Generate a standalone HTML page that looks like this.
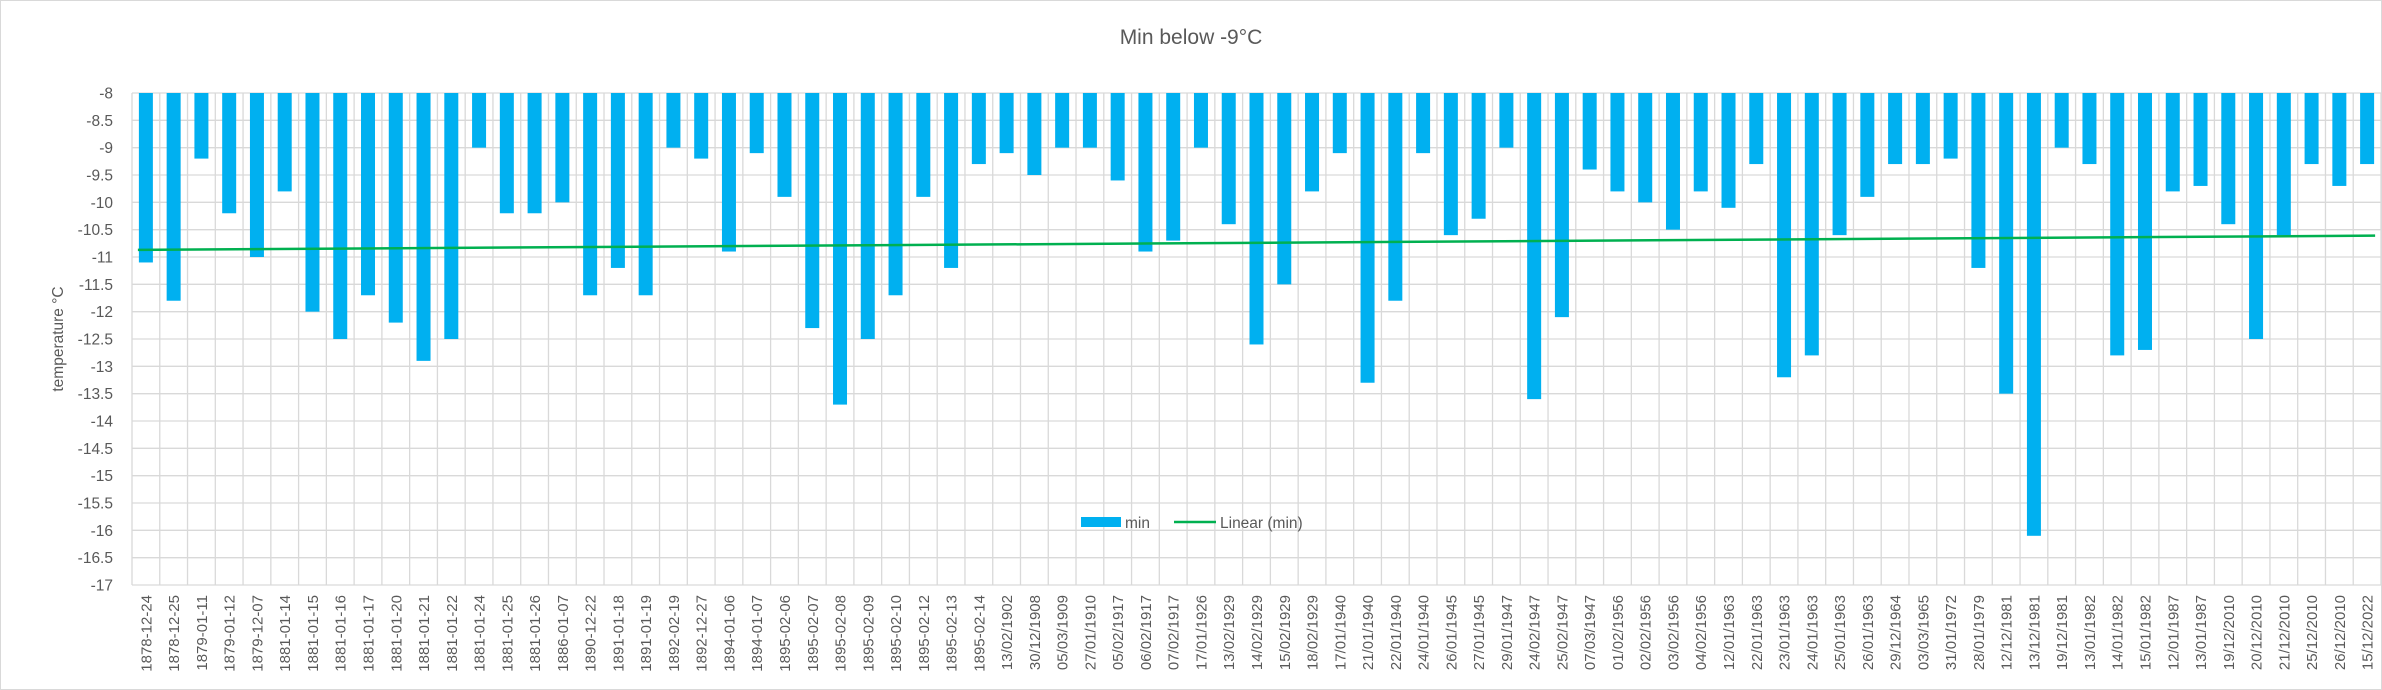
<!DOCTYPE html>
<html><head><meta charset="utf-8"><style>
html,body{margin:0;padding:0;background:#fff;}
svg{display:block;font-family:"Liberation Sans",sans-serif;}
</style></head><body>
<svg id="c" width="2382" height="690" xmlns="http://www.w3.org/2000/svg"></svg>
<script>
const labels=["1878-12-24","1878-12-25","1879-01-11","1879-01-12","1879-12-07","1881-01-14","1881-01-15","1881-01-16","1881-01-17","1881-01-20","1881-01-21","1881-01-22","1881-01-24","1881-01-25","1881-01-26","1886-01-07","1890-12-22","1891-01-18","1891-01-19","1892-02-19","1892-12-27","1894-01-06","1894-01-07","1895-02-06","1895-02-07","1895-02-08","1895-02-09","1895-02-10","1895-02-12","1895-02-13","1895-02-14","13/02/1902","30/12/1908","05/03/1909","27/01/1910","05/02/1917","06/02/1917","07/02/1917","17/01/1926","13/02/1929","14/02/1929","15/02/1929","18/02/1929","17/01/1940","21/01/1940","22/01/1940","24/01/1940","26/01/1945","27/01/1945","29/01/1947","24/02/1947","25/02/1947","07/03/1947","01/02/1956","02/02/1956","03/02/1956","04/02/1956","12/01/1963","22/01/1963","23/01/1963","24/01/1963","25/01/1963","26/01/1963","29/12/1964","03/03/1965","31/01/1972","28/01/1979","12/12/1981","13/12/1981","19/12/1981","13/01/1982","14/01/1982","15/01/1982","12/01/1987","13/01/1987","19/12/2010","20/12/2010","21/12/2010","25/12/2010","26/12/2010","15/12/2022"];
const vals=[-11.1,-11.8,-9.2,-10.2,-11.0,-9.8,-12.0,-12.5,-11.7,-12.2,-12.9,-12.5,-9.0,-10.2,-10.2,-10.0,-11.7,-11.2,-11.7,-9.0,-9.2,-10.9,-9.1,-9.9,-12.3,-13.7,-12.5,-11.7,-9.9,-11.2,-9.3,-9.1,-9.5,-9.0,-9.0,-9.6,-10.9,-10.7,-9.0,-10.4,-12.6,-11.5,-9.8,-9.1,-13.3,-11.8,-9.1,-10.6,-10.3,-9.0,-13.6,-12.1,-9.4,-9.8,-10.0,-10.5,-9.8,-10.1,-9.3,-13.2,-12.8,-10.6,-9.9,-9.3,-9.3,-9.2,-11.2,-13.5,-16.1,-9.0,-9.3,-12.8,-12.7,-9.8,-9.7,-10.4,-12.5,-10.6,-9.3,-9.7,-9.3];
const L=132,R=2381,T=93,B=585,n=labels.length,w=(R-L)/n,k=(B-T)/9;
const Y=v=>T+(-8-v)*k;
let s='<rect x="0.5" y="0.5" width="2381" height="689" fill="#fff" stroke="#d9d9d9"/>';
s+='<text x="1191" y="44" font-size="21" fill="#595959" text-anchor="middle">Min below -9°C</text>';
for(let i=0;i<=18;i++){const y=T+i*k/2;s+=`<line x1="${L}" x2="${R}" y1="${y}" y2="${y}" stroke="#d9d9d9" stroke-width="1.3"/>`;
const v=-8-i*0.5;s+=`<text x="${L-19}" y="${y+5.5}" font-size="15.5" fill="#595959" text-anchor="end">${v}</text>`;}
for(let i=0;i<=n;i++){const x=L+i*w;s+=`<line x1="${x}" x2="${x}" y1="${T}" y2="${B}" stroke="#d9d9d9" stroke-width="1.3"/>`;}
for(let i=0;i<n;i++){const cx=L+(i+0.5)*w;s+=`<rect x="${cx-7}" y="${T}" width="14" height="${Y(vals[i])-T}" fill="#00b0f0"/>`;
s+=`<text transform="translate(${cx+5.5},595) rotate(-90)" font-size="15" fill="#595959" text-anchor="end">${labels[i]}</text>`;}
s+=`<line x1="${L+0.5*w-8}" x2="${R-0.5*w+8}" y1="${Y(-10.87)}" y2="${Y(-10.61)}" stroke="#00b050" stroke-width="2.5"/>`;
s+='<text transform="translate(63,339) rotate(-90)" font-size="15.5" fill="#595959" text-anchor="middle">temperature °C</text>';
s+='<rect x="1081" y="517" width="40" height="10" fill="#00b0f0"/><text x="1125" y="528" font-size="15.5" fill="#595959">min</text>';
s+='<line x1="1174" x2="1216" y1="522" y2="522" stroke="#00b050" stroke-width="2.5"/><text x="1220" y="528" font-size="15.5" fill="#595959">Linear (min)</text>';
document.getElementById('c').innerHTML=s;
</script>
</body></html>
